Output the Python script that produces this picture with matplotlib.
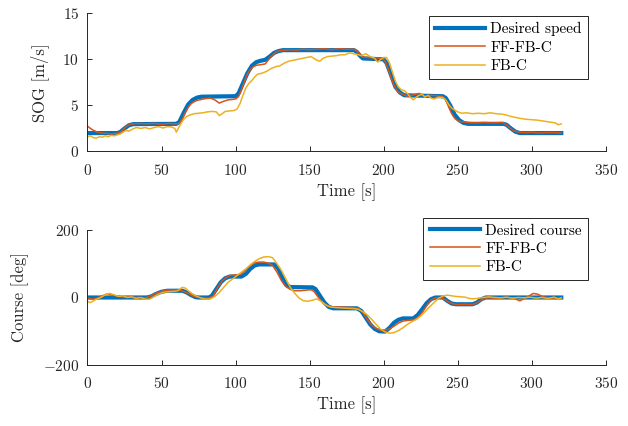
import numpy as np
import matplotlib
matplotlib.use("Agg")
import matplotlib.pyplot as plt

plt.rcParams['font.family'] = 'serif'
plt.rcParams['font.serif'] = ['cmr10']
plt.rcParams['mathtext.fontset'] = 'cm'
plt.rcParams['axes.formatter.use_mathtext'] = True

# speed over ground [m/s]
t_sog_ref = [0, 20, 22, 25, 28, 31, 60, 62, 65, 68, 71, 74, 77, 100, 102, 105, 108, 111, 114, 117,
             120, 123, 126, 129, 132, 180, 182, 184, 186, 200, 202, 205, 208, 211, 214, 240, 242,
             245, 248, 251, 254, 257, 281, 283, 286, 289, 292, 320]
sog_ref = [2.0, 2.0, 2.1, 2.5, 2.85, 2.97, 3.0, 3.2, 4.2, 5.1, 5.6, 5.85, 5.95, 6.0, 6.3, 7.4, 8.5,
           9.3, 9.7, 9.85, 9.95, 10.3, 10.7, 10.9, 11.0, 11.0, 10.8, 10.4, 10.1, 10.0, 9.6, 8.3, 7.0,
           6.4, 6.1, 6.0, 5.8, 5.0, 4.0, 3.4, 3.1, 3.0, 3.0, 2.9, 2.5, 2.15, 2.0, 2.0]

t_sog_ff = [0, 2, 4, 6, 8, 10, 13, 16, 19, 21, 23, 25, 27, 29, 31, 35, 40, 45, 50, 55, 58, 60, 62,
            64, 66, 68, 70, 72, 74, 77, 80, 83, 86, 89, 92, 95, 98, 100, 102, 104, 106, 108, 110,
            112, 114, 116, 118, 120, 122, 124, 126, 128, 130, 133, 137, 141, 145, 150, 155, 160,
            165, 170, 175, 180, 182, 184, 186, 190, 195, 199, 201, 203, 205, 207, 209, 211, 213,
            216, 220, 224, 228, 232, 236, 240, 242, 244, 246, 248, 250, 252, 254, 257, 262, 268,
            274, 280, 282, 284, 286, 288, 290, 292, 296, 300, 305, 310, 315, 320]
sog_ff = [2.75, 2.5, 2.3, 2.15, 2.05, 2.0, 1.95, 1.9, 1.95, 2.0, 2.2, 2.55, 2.8, 2.95, 3.0, 3.05,
          3.0, 3.05, 2.95, 3.05, 3.0, 3.0, 3.05, 3.5, 4.2, 4.8, 5.2, 5.4, 5.55, 5.65, 5.75, 5.8,
          5.6, 5.25, 5.45, 5.6, 5.65, 5.7, 5.95, 6.7, 7.6, 8.4, 8.9, 9.2, 9.35, 9.4, 9.45, 9.5, 9.9,
          10.3, 10.6, 10.85, 10.95, 11.0, 11.05, 11.0, 11.1, 11.05, 11.1, 11.15, 11.05, 11.15,
          11.1, 11.1, 10.9, 10.5, 10.25, 10.2, 10.15, 10.1, 9.8, 9.0, 8.0, 7.2, 6.6, 6.35, 6.2,
          6.0, 6.15, 6.3, 6.0, 6.1, 6.05, 5.95, 5.6, 4.8, 4.1, 3.6, 3.35, 3.25, 3.2, 3.15, 3.1,
          3.15, 3.1, 3.15, 3.0, 2.75, 2.45, 2.25, 2.15, 2.1, 2.05, 2.1, 2.0, 2.05, 2.05, 2.0]

t_sog_fb = [0, 2, 4, 6, 8, 10, 12, 14, 16, 18, 20, 22, 24, 26, 28, 30, 33, 36, 39, 42, 45, 48, 51,
            54, 57, 59, 60, 61, 63, 65, 67, 69, 72, 75, 78, 81, 84, 87, 89, 91, 93, 96, 99, 101,
            103, 105, 107, 109, 111, 113, 115, 118, 121, 124, 127, 130, 133, 136, 139, 142, 145,
            148, 151, 153, 155, 157, 159, 162, 165, 168, 171, 174, 177, 180, 183, 185, 188, 191,
            194, 196, 198, 200, 202, 204, 206, 208, 210, 212, 214, 216, 218, 220, 222, 224, 226,
            228, 230, 232, 234, 237, 240, 242, 244, 246, 248, 250, 253, 256, 260, 264, 268, 272,
            276, 280, 283, 286, 289, 292, 296, 300, 304, 308, 312, 316, 318, 320]
sog_fb = [1.6, 1.7, 1.5, 1.45, 1.6, 1.55, 1.7, 1.6, 1.75, 1.7, 1.8, 1.9, 2.1, 2.3, 2.2, 2.4, 2.6,
          2.5, 2.6, 2.45, 2.6, 2.7, 2.55, 2.7, 2.65, 2.5, 2.1, 2.4, 3.0, 3.5, 3.8, 3.95, 4.1, 4.15,
          4.2, 4.3, 4.35, 4.3, 3.9, 4.1, 4.35, 4.4, 4.45, 4.6, 5.2, 6.1, 6.9, 7.4, 7.7, 8.1, 8.4,
          8.5, 8.7, 9.0, 9.2, 9.3, 9.6, 9.8, 9.9, 10.0, 10.1, 10.2, 10.3, 10.1, 9.9, 9.8, 10.1,
          10.3, 10.35, 10.4, 10.5, 10.5, 10.7, 10.6, 10.5, 10.4, 10.6, 10.3, 10.1, 9.7, 10.0, 10.2,
          10.2, 9.6, 8.6, 7.6, 7.0, 6.7, 6.6, 6.3, 5.9, 5.6, 5.9, 6.1, 6.2, 5.9, 6.1, 5.8, 5.7,
          5.9, 5.85, 5.6, 5.1, 4.7, 4.5, 4.3, 4.15, 4.2, 4.1, 4.15, 4.1, 4.2, 4.1, 4.05, 3.95,
          3.8, 3.7, 3.6, 3.5, 3.45, 3.4, 3.3, 3.2, 3.1, 2.9, 3.0]

# course [deg]
t_crs_ref = [0, 40, 43, 46, 50, 54, 64, 67, 70, 73, 75, 82, 84, 87, 90, 93, 96, 104, 107, 110, 113,
             116, 126, 129, 132, 134, 137, 152, 154, 157, 160, 163, 166, 182, 185, 188, 191, 194,
             197, 201, 204, 207, 210, 213, 220, 223, 226, 229, 232, 235, 240, 243, 246, 249, 260,
             263, 266, 269, 320]
crs_ref = [0, 0, 3, 10, 17, 20, 20, 15, 7, 1, 0, 0, 5, 25, 45, 57, 62, 62, 70, 85, 95, 98, 98, 85,
           55, 38, 31, 30, 25, 5, -15, -28, -32, -32, -40, -60, -80, -93, -100, -101, -90, -75,
           -66, -62, -62, -52, -35, -17, -5, 0, 0, -10, -18, -20, -20, -15, -5, 0, 0]

t_crs_ff = [0, 3, 6, 10, 13, 16, 19, 22, 25, 28, 31, 34, 37, 40, 43, 46, 50, 54, 58, 62, 65, 68,
            71, 74, 78, 82, 85, 88, 91, 94, 97, 101, 104, 107, 110, 113, 116, 119, 122, 125, 128,
            131, 134, 137, 140, 144, 148, 151, 153, 156, 159, 162, 166, 170, 175, 180, 183, 186,
            189, 192, 195, 198, 201, 204, 207, 210, 213, 216, 220, 223, 226, 229, 232, 235, 238,
            241, 244, 247, 250, 255, 260, 263, 266, 269, 272, 276, 280, 284, 288, 292, 295, 298,
            301, 304, 307, 310, 313, 316, 320]
crs_ff = [-2, -5, -3, 5, 10, 8, 5, 3, 0, 2, -1, 1, -2, 0, 5, 12, 18, 22, 22, 22, 18, 12, 5, 1, -1,
          -2, 5, 30, 50, 60, 66, 67, 70, 82, 95, 103, 105, 105, 102, 95, 75, 50, 32, 24, 20, 20,
          22, 23, 18, 0, -15, -25, -28, -28, -29, -30, -32, -45, -65, -82, -92, -97, -97, -93,
          -85, -76, -70, -68, -66, -60, -45, -25, -8, -1, 0, -5, -14, -19, -21, -20, -21, -16, -7,
          -2, -1, -3, -1, 0, -2, -10, -3, 4, 12, 10, 3, 0, -1, -3, -2]

t_crs_fb = [0, 2, 4, 6, 9, 12, 15, 18, 21, 24, 27, 30, 33, 36, 39, 42, 45, 48, 51, 54, 58, 61, 64,
            66, 68, 71, 74, 77, 80, 83, 86, 89, 92, 95, 98, 101, 104, 107, 110, 113, 116, 119,
            122, 125, 128, 131, 134, 137, 140, 143, 146, 149, 152, 155, 158, 161, 164, 168, 172,
            176, 180, 183, 186, 189, 192, 195, 198, 201, 204, 207, 210, 213, 216, 219, 222, 225,
            228, 231, 234, 237, 240, 243, 246, 249, 252, 255, 258, 261, 264, 267, 271, 275, 279,
            283, 287, 291, 295, 299, 303, 307, 311, 315, 318, 320]
crs_fb = [-12, -15, -10, -5, 0, 8, 12, 8, 3, 5, 0, 2, -3, 0, -5, -5, 3, 10, 15, 17, 18, 20, 30, 28,
          20, 10, 3, -2, -5, -4, 3, 15, 30, 45, 55, 65, 75, 85, 97, 107, 115, 120, 121, 118, 100,
          80, 55, 30, 12, -2, -10, -11, -8, -4, -12, -22, -28, -30, -31, -32, -33, -35, -42, -52,
          -65, -80, -94, -102, -106, -104, -98, -90, -80, -72, -65, -55, -42, -28, -15, -3, 4, 7,
          5, 3, 2, 1, -3, -4, -2, 0, 2, 0, -1, 1, -2, 0, -1, 1, -2, 0, -3, 1, -4, -1]

c_blue = '#0072BD'
c_orange = '#D95319'
c_yellow = '#EDB120'
ax_col = '0.15'

fig = plt.figure(figsize=(6.28, 4.26), dpi=100)
ax1 = fig.add_axes([0.1393, 0.6444, 0.8252, 0.3244])
ax2 = fig.add_axes([0.1393, 0.1432, 0.8252, 0.3169])


def style(ax):
    for s in ['top', 'right']:
        ax.spines[s].set_visible(False)
    for s in ['left', 'bottom']:
        ax.spines[s].set_color(ax_col)
        ax.spines[s].set_linewidth(0.7)
    ax.tick_params(direction='in', length=3.5, width=0.7, colors=ax_col, labelsize=11,
                   labelcolor='0.15')
    ax.tick_params(axis='x', pad=8)
    ax.tick_params(axis='y', pad=6)
    ax.set_xlim(0, 350)
    ax.set_xticks(np.arange(0, 351, 50))
    ax.set_xlabel('Time [s]', fontsize=12, color='0.15', labelpad=4)


ax1.plot(t_sog_ref, sog_ref, color=c_blue, lw=3, label='Desired speed')
ax1.plot(t_sog_ff, sog_ff, color=c_orange, lw=1.1, label='FF-FB-C')
ax1.plot(t_sog_fb, sog_fb, color=c_yellow, lw=1.1, label='FB-C')
style(ax1)
ax1.set_ylim(0, 15)
ax1.set_yticks([0, 5, 10, 15])
ax1.set_ylabel('SOG [m/s]', fontsize=12, color='0.15', labelpad=10)

ax2.plot(t_crs_ref, crs_ref, color=c_blue, lw=3, label='Desired course')
ax2.plot(t_crs_ff, crs_ff, color=c_orange, lw=1.1, label='FF-FB-C')
ax2.plot(t_crs_fb, crs_fb, color=c_yellow, lw=1.1, label='FB-C')
style(ax2)
ax2.set_ylim(-200, 200)
ax2.set_yticks([-200, 0, 200])
ax2.set_ylabel('Course [deg]', fontsize=12, color='0.15', labelpad=10)

for ax, ytop in [(ax1, 16), (ax2, 217.7)]:
    leg = ax.legend(loc='upper right', bbox_to_anchor=(588 / 628, 1 - ytop / 426),
                    bbox_transform=fig.transFigure, borderaxespad=0, fontsize=11,
                    handlelength=3.3, handletextpad=0.35, labelspacing=0.3,
                    fancybox=False, framealpha=1, edgecolor='0.15')
    leg.get_frame().set_linewidth(0.7)

fig.savefig('out.png', dpi=100)
